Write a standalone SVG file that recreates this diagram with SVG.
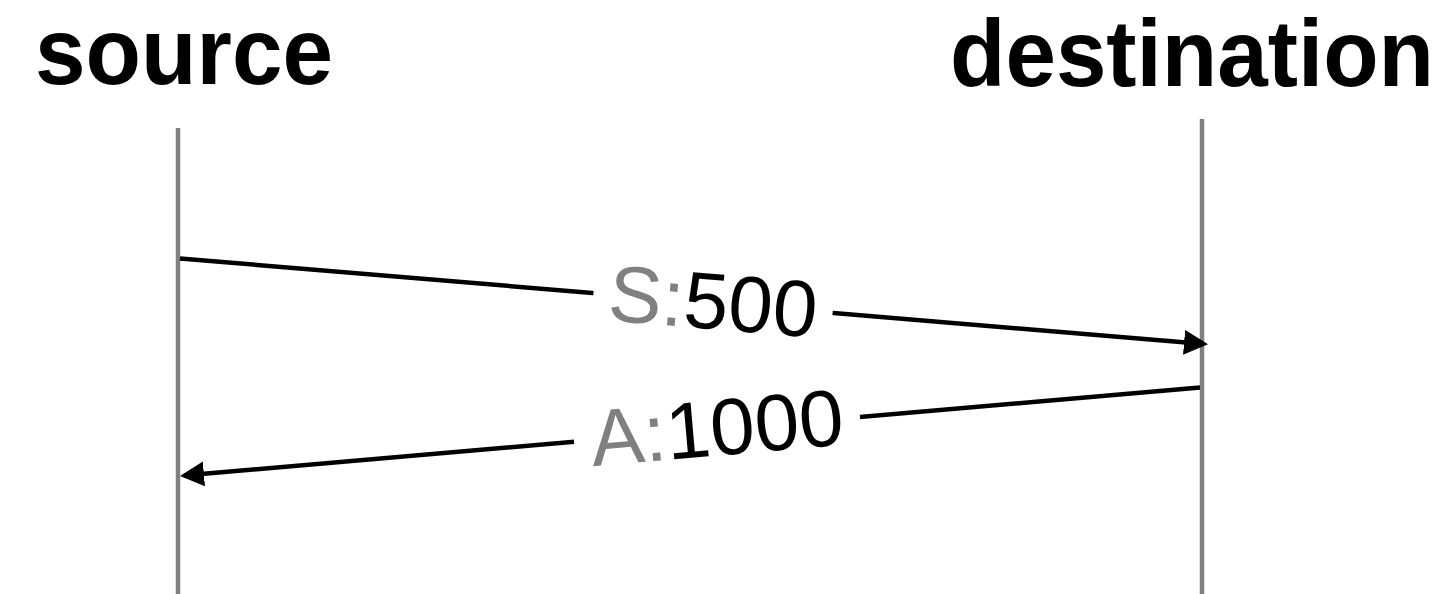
<svg xmlns="http://www.w3.org/2000/svg" width="1450" height="594" viewBox="0 0 1450 594">
  <style>
    .title { font-family: "Liberation Sans", Arial, Helvetica, sans-serif; font-weight: bold; font-size: 95px; fill: #000; }
    .lifeline { stroke: #808080; stroke-width: 4.5; fill: none; }
    .msg { stroke: #000; stroke-width: 4.5; fill: none; marker-end: url(#head); }
    .label { font-family: "Liberation Sans", Arial, Helvetica, sans-serif; font-size: 80px; fill: #000; }
    .label .kind { fill: #808080; }
    .gap { fill: #fff; }
  </style>
  <defs>
    <marker id="head" markerUnits="userSpaceOnUse" markerWidth="26" markerHeight="26" refX="20" refY="12.5" orient="auto">
      <path d="M0,0 L24,12.5 L0,25 z" fill="#000"/>
    </marker>
  </defs>
  <rect width="1450" height="594" fill="#fff"/>

  <g id="source">
    <text class="title" x="35" y="84" textLength="298" lengthAdjust="spacingAndGlyphs">source</text>
    <line class="lifeline" x1="178" y1="128" x2="178" y2="594"/>
  </g>

  <g id="destination">
    <text class="title" x="950" y="85.5" textLength="484" lengthAdjust="spacingAndGlyphs">destination</text>
    <line class="lifeline" x1="1202" y1="119" x2="1202" y2="594"/>
  </g>

  <g id="connectors">
    <!-- SYN: source to destination -->
    <line class="msg" x1="180" y1="258.5" x2="1204" y2="344"/>
    <g transform="translate(713 303) rotate(4.77)">
      <rect class="gap" x="-120" y="-9" width="240" height="18"/>
      <text class="label" x="0" y="26" text-anchor="middle"><tspan class="kind">S:</tspan>500</text>
    </g>
    <!-- ACK: destination back to source -->
    <line class="msg" x1="1200" y1="387.5" x2="184" y2="475.6"/>
    <g transform="translate(717 429.4) rotate(-4.96)">
      <rect class="gap" x="-143.5" y="-9" width="287" height="18"/>
      <text class="label" x="0" y="26" text-anchor="middle"><tspan class="kind">A:</tspan>1000</text>
    </g>
  </g>
</svg>
